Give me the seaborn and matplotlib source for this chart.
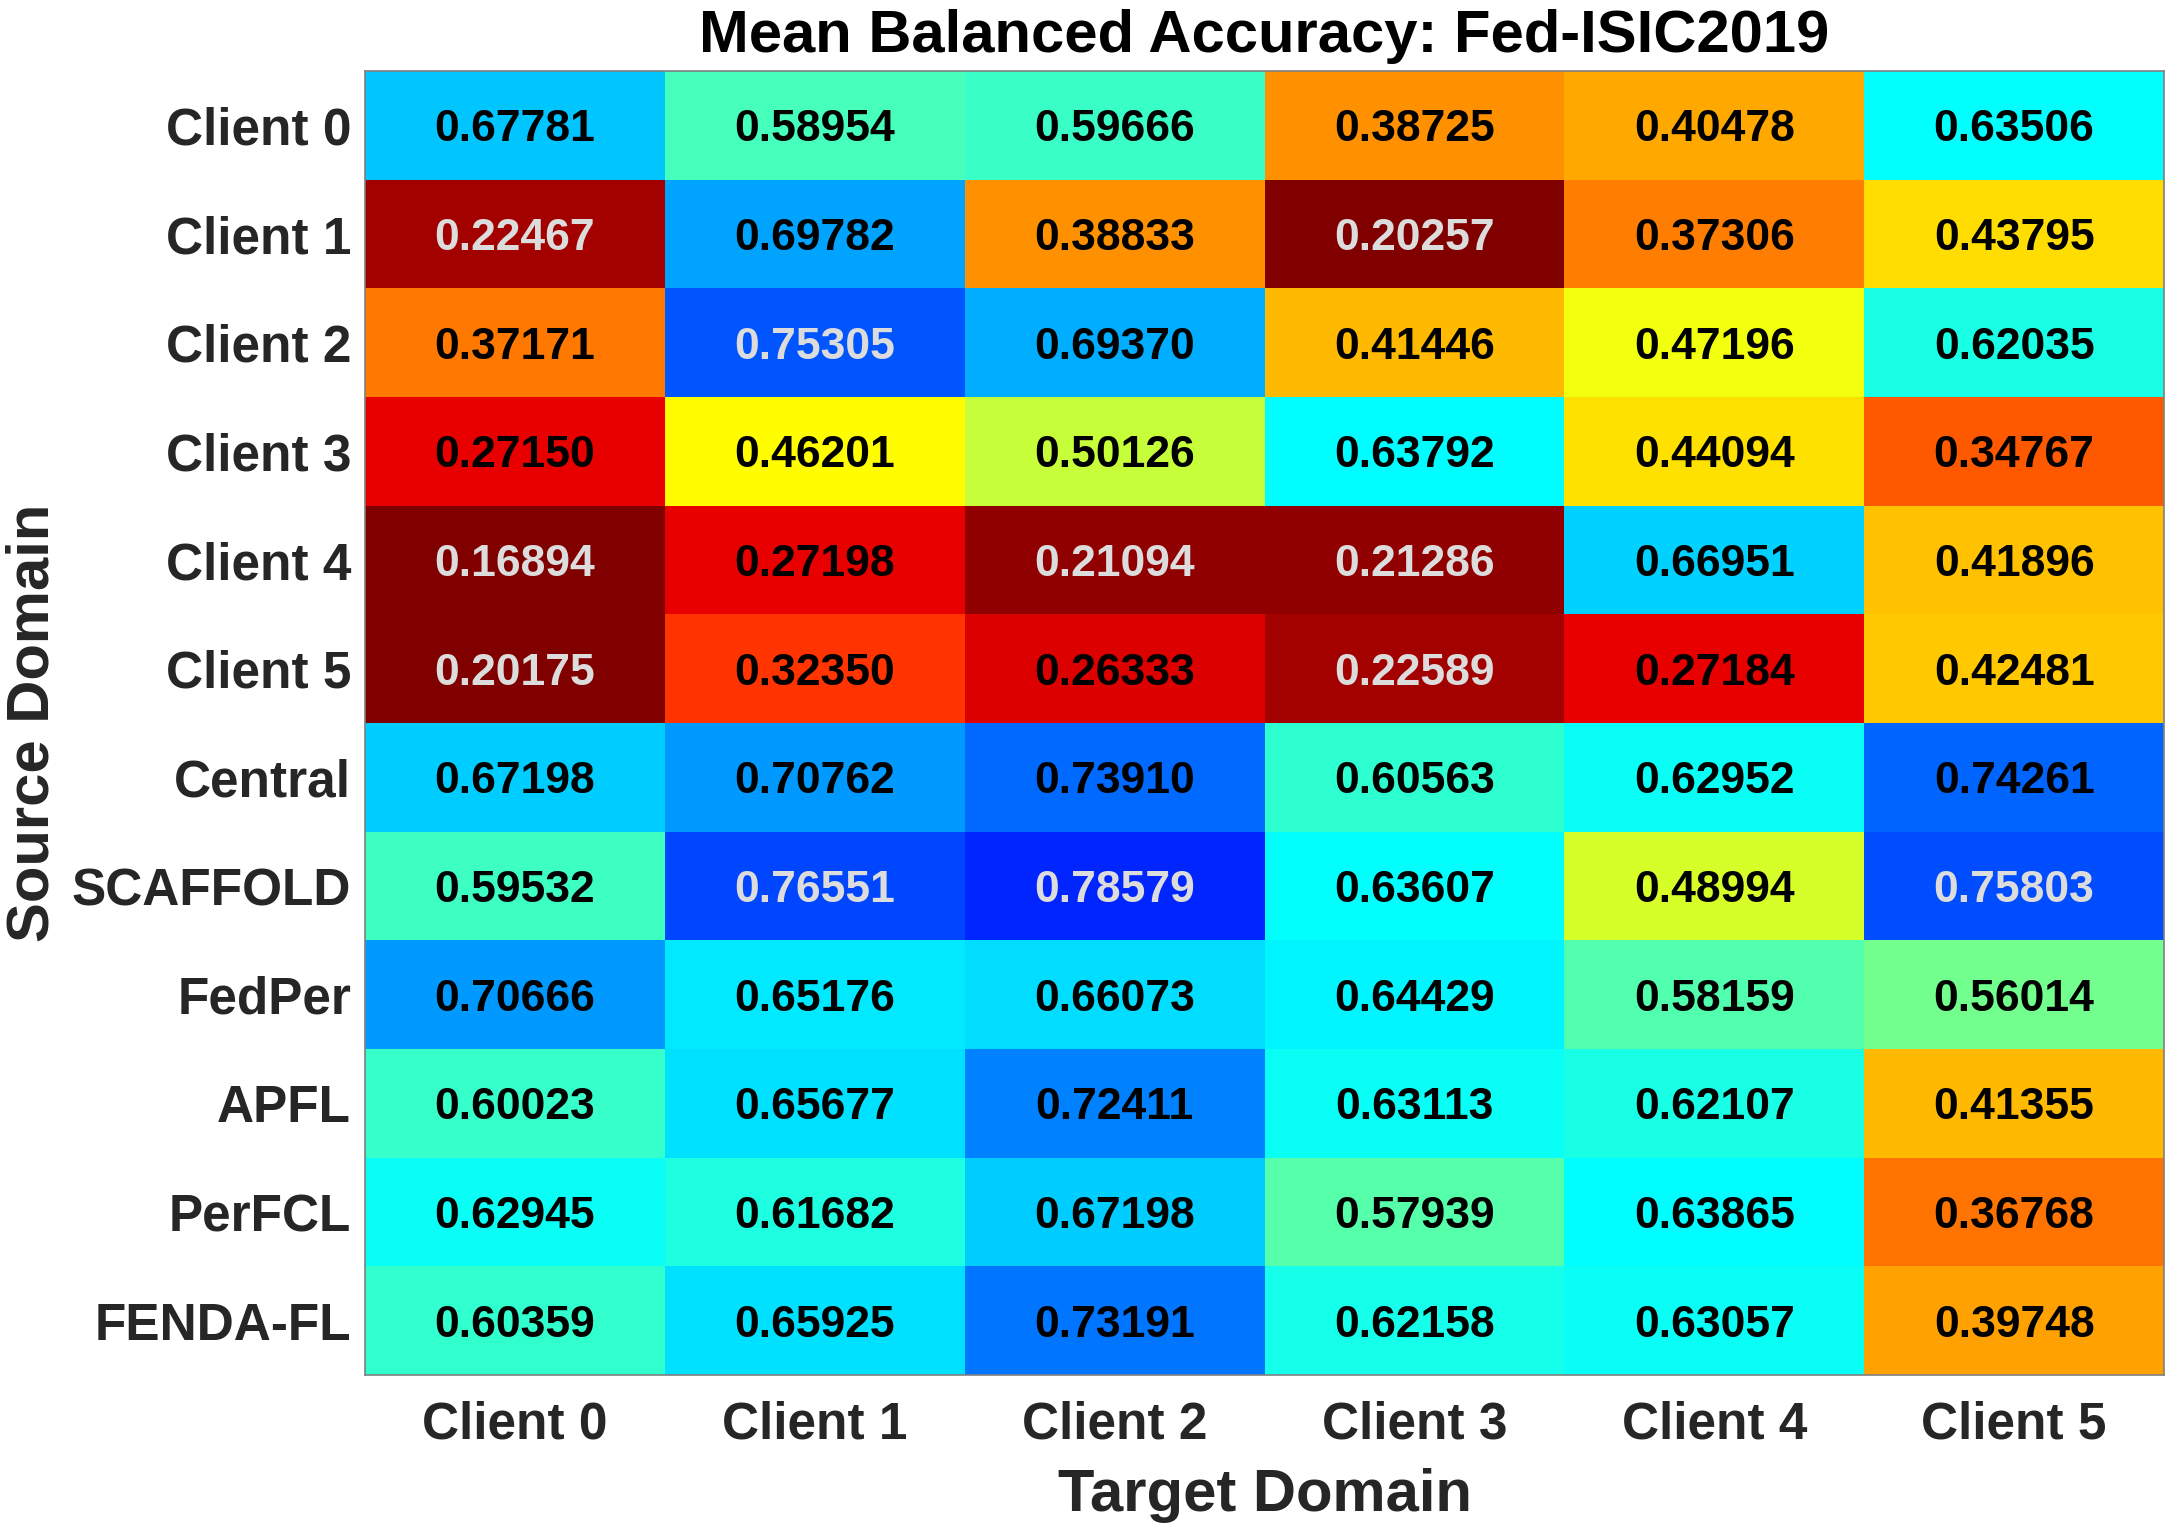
import numpy as np
import pandas as pd
import matplotlib
matplotlib.use("Agg")
import matplotlib.pyplot as plt
import seaborn as sns
from matplotlib.colors import LinearSegmentedColormap

# rows = source domain, columns = target domain
sources = ["Client 0", "Client 1", "Client 2", "Client 3", "Client 4", "Client 5",
           "Central", "SCAFFOLD", "FedPer", "APFL", "PerFCL", "FENDA-FL"]
targets = ["Client 0", "Client 1", "Client 2", "Client 3", "Client 4", "Client 5"]

client0 = [0.67781, 0.58954, 0.59666, 0.38725, 0.40478, 0.63506]
client1 = [0.22467, 0.69782, 0.38833, 0.20257, 0.37306, 0.43795]
client2 = [0.37171, 0.75305, 0.69370, 0.41446, 0.47196, 0.62035]
client3 = [0.27150, 0.46201, 0.50126, 0.63792, 0.44094, 0.34767]
client4 = [0.16894, 0.27198, 0.21094, 0.21286, 0.66951, 0.41896]
client5 = [0.20175, 0.32350, 0.26333, 0.22589, 0.27184, 0.42481]
central = [0.67198, 0.70762, 0.73910, 0.60563, 0.62952, 0.74261]
scaffold = [0.59532, 0.76551, 0.78579, 0.63607, 0.48994, 0.75803]
fedper = [0.70666, 0.65176, 0.66073, 0.64429, 0.58159, 0.56014]
apfl = [0.60023, 0.65677, 0.72411, 0.63113, 0.62107, 0.41355]
perfcl = [0.62945, 0.61682, 0.67198, 0.57939, 0.63865, 0.36768]
fenda = [0.60359, 0.65925, 0.73191, 0.62158, 0.63057, 0.39748]

df = pd.DataFrame([client0, client1, client2, client3, client4, client5,
                   central, scaffold, fedper, apfl, perfcl, fenda],
                  index=sources, columns=targets)

# MATLAB style jet, flipped
jet = LinearSegmentedColormap.from_list(
    "mjet", [(0, (0, 0, 0.5)), (1 / 8, (0, 0, 1)), (3 / 8, (0, 1, 1)),
             (5 / 8, (1, 1, 0)), (7 / 8, (1, 0, 0)), (1, (0.5, 0, 0))], N=256)
cmap = jet.reversed()

sns.set_theme(style="white")
plt.rcParams["font.family"] = ["Liberation Sans", "DejaVu Sans"]
plt.rcParams["font.weight"] = "bold"

fig = plt.figure(figsize=(21.82, 15.28), dpi=100)
ax = fig.add_axes([0.1673, 0.1001, 0.8245, 0.8534])

sns.heatmap(df, ax=ax, cmap=cmap, vmin=0.2, vmax=0.9, cbar=False,
            annot=True, fmt=".5f",
            annot_kws={"fontsize": 32, "fontweight": "bold"})

# text colour: light on the darkest cells
for txt, v in zip(ax.texts, df.values.flatten()):
    txt.set_va("center_baseline")
    if v < 0.23 or v > 0.75:
        txt.set_color("#dcdcdc")
    else:
        txt.set_color("black")

ax.tick_params(axis="both", length=0, labelsize=37, colors="#262626")
ax.tick_params(axis="y", pad=10)
ax.tick_params(axis="x", pad=18)
ax.set_yticklabels(ax.get_yticklabels(), rotation=0, fontweight="bold",
                   va="center_baseline")
ax.set_xticklabels(ax.get_xticklabels(), rotation=0, fontweight="bold")

for s in ax.spines.values():
    s.set_visible(True)
    s.set_color("#7f7f7f")
    s.set_linewidth(1.2)

ax.set_xlabel("Target Domain", fontsize=43, fontweight="bold", color="#262626", labelpad=14)
ax.set_ylabel("Source Domain", fontsize=43, fontweight="bold", color="#262626", labelpad=8)
ax.set_title("Mean Balanced Accuracy: Fed-ISIC2019", fontsize=43, fontweight="bold",
             color="black", pad=14)

fig.savefig("out.png", dpi=100)
